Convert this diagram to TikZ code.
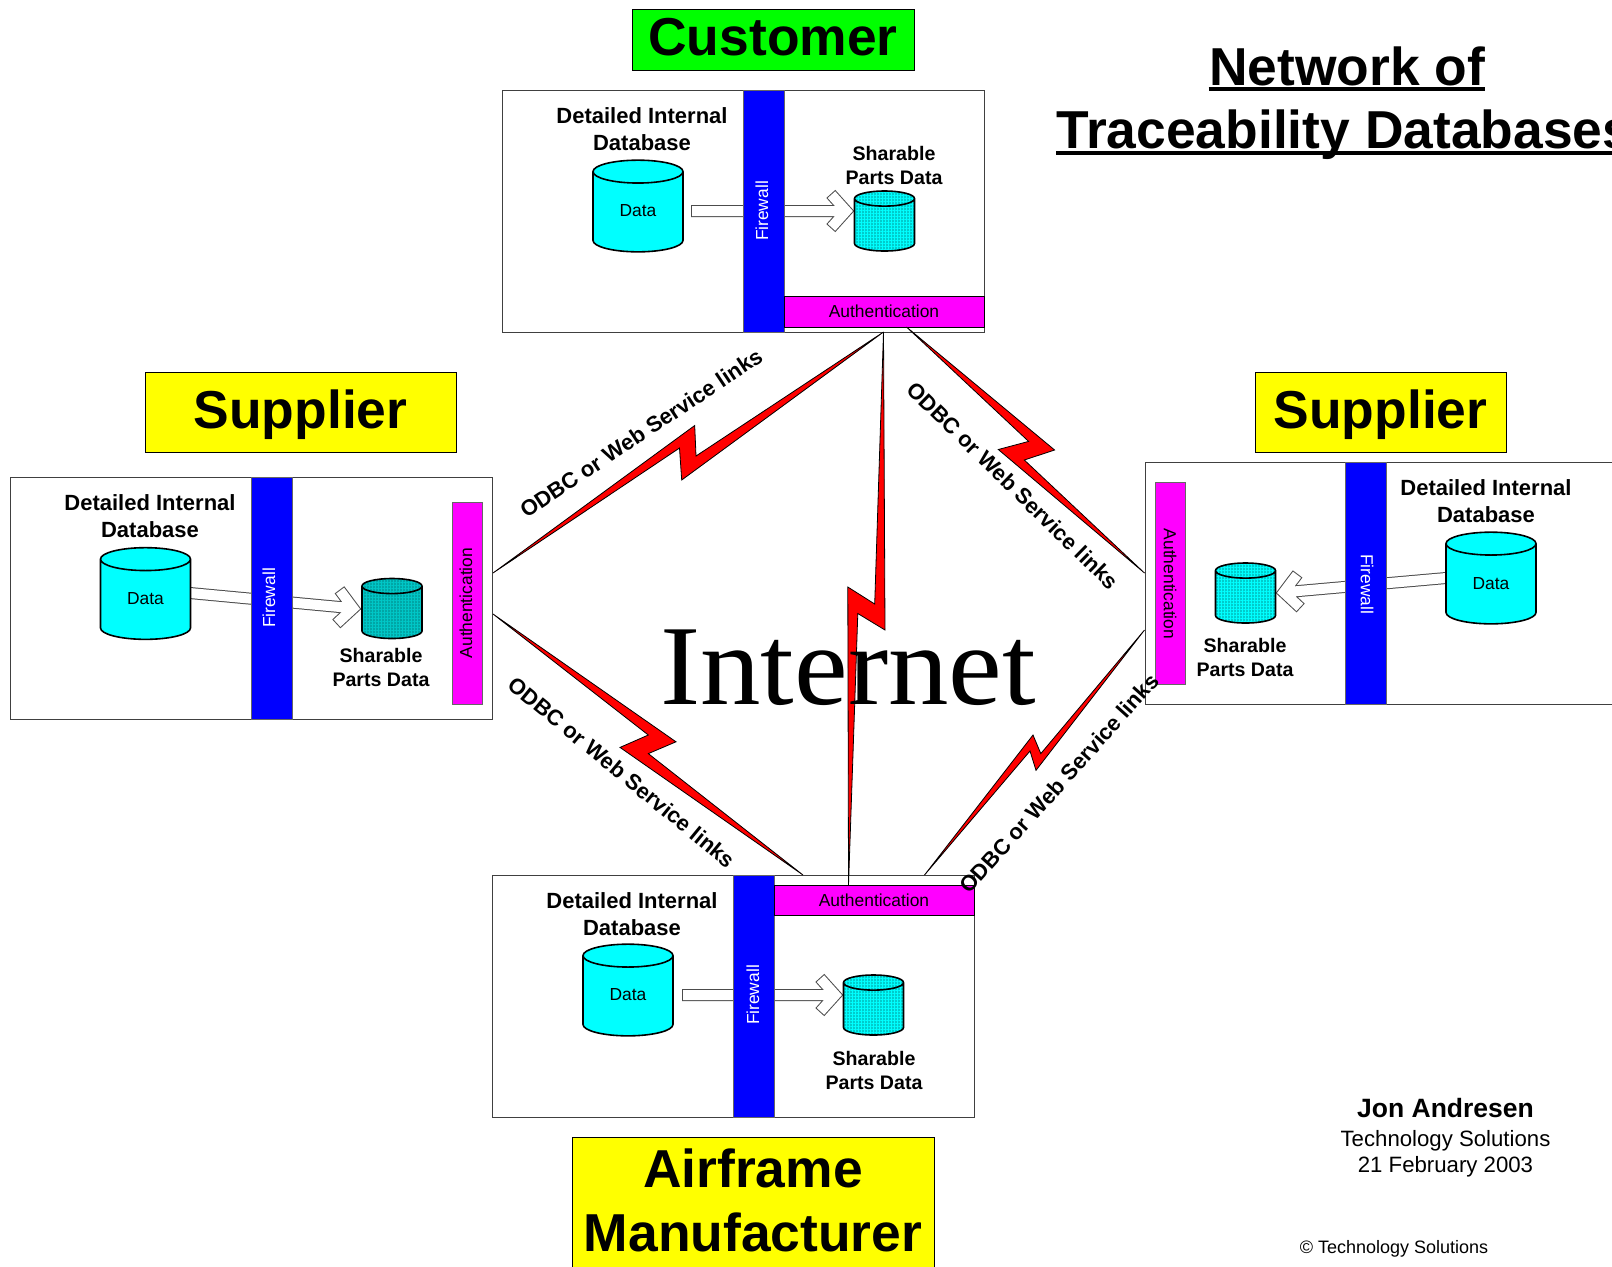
\documentclass[tikz,border=0pt]{standalone}
\usepackage{fontspec}
\setmainfont{Liberation Sans}
\newfontfamily\internetface{Liberation Serif}
\usetikzlibrary{calc,shapes.geometric,patterns.meta}
\definecolor{dbcyan}{RGB}{0,255,255}
\definecolor{authpink}{RGB}{255,0,255}
\definecolor{partyyellow}{RGB}{255,255,0}
\newcommand{\dataarrow}[2]{
	\coordinate (bend) at ($(#2)!3.9pt!(#1)$);
	\draw[flowarrow] (#1) -- ($(#2)!6.5pt!(#1)$) ($(bend)!8.5pt!48:(#1)$) -- (bend) -- ($(bend)!8.5pt!-48:(#1)$);
}
\begin{document}
\begin{tikzpicture}[x=.5pt,y=-.5pt]
	\tikzset{wh/.style 2 args={minimum width=#1*.5pt, minimum height=#2*.5pt}}
	\tikzset{frame/.style={draw=black!75, line width=.4pt, fill=white, inner sep=0pt, outer sep=0pt, anchor=north west}}
	\tikzset{party/.style={frame, draw=black, font=\bfseries\fontsize{26.7}{32}\selectfont, align=center}}
	\tikzset{firewall/.style={frame, draw=black!60, fill=blue}}
	\tikzset{auth/.style={frame, draw=black, fill=authpink}}
	\tikzset{small/.style={inner sep=0pt, font=\fontsize{8.7}{10}\selectfont}}
	\tikzset{firetext/.style={small, text=white}}
	\tikzset{heading/.style={inner sep=0pt, align=center, font=\bfseries\fontsize{11}{13.3}\selectfont}}
	\tikzset{subheading/.style={inner sep=0pt, align=center, font=\bfseries\fontsize{9.8}{12}\selectfont}}
	\tikzset{store/.style={cylinder, shape border rotate=90, aspect=.26, draw=black, line width=.8pt, outer sep=0pt, anchor=shape center}}
	\tikzset{data/.style={store, fill=dbcyan, inner xsep=22pt, inner ysep=17pt, wh={90}{91}}}
	\tikzset{shared/.style 2 args={store, inner xsep=14.5pt, inner ysep=11pt, wh={60}{60}, pattern color=#2, preaction={fill=#1}, preaction={pattern={Lines[angle=0,distance=1.5pt,line width=.4pt]}}, pattern={Lines[angle=90,distance=1.5pt,line width=.4pt]}}}
	\tikzset{flowarrow/.style={draw=black!70, line width=.5pt, double=white, double distance=5pt, line cap=rect}}
	\tikzset{bolt/.style={draw=black, line width=.4pt, fill=red}}
	\tikzset{linktext/.style={inner sep=0pt, font=\bfseries\fontsize{11}{13}\selectfont}}
	\tikzset{rule/.style={line width=2pt}}

	\useasboundingbox (0,0) rectangle (1612,1266);
	\clip (0,0) rectangle (1612,1266);

%% Customer
	\node[party, fill=green, wh={282}{61}, text depth=3pt] (custLabel) at (632,9) {Customer};
	\node[frame, wh={482}{242}] (custFrame) at (502,90) {};
	\coordinate (custFrom) at (697,211);
	\coordinate (custTo) at (854,211);
	\dataarrow{custFrom}{custTo}
	\node[data] (custData) at (638,206) {};
	\node[shared={dbcyan!80!black}{dbcyan}] (custShare) at (884.5,221) {};
	\node[firewall, wh={41}{242}] (custFire) at (743,90) {};
	\node[auth, wh={200}{31}] (custAuth) at (784,296) {};
	\node[small] (custDataText) at (638,211) {Data};
	\node[firetext, rotate=90] (custFireText) at (762,211) {Firewall};
	\node[small] (custAuthText) at (884,311) {Authentication};
	\node[heading] (custHead) at (642,129) {Detailed Internal\\Database};
	\node[subheading] (custSub) at (894,165) {Sharable\\Parts Data};

%% Supplier on the left
	\node[party, fill=partyyellow, wh={311}{80}, text depth=3.1pt] (leftLabel) at (145,372) {Supplier};
	\node[frame, wh={482}{242}] (leftFrame) at (10,477) {};
	\coordinate (leftFrom) at (190,593);
	\coordinate (leftTo) at (361,609);
	\dataarrow{leftFrom}{leftTo}
	\node[data] (leftData) at (145.5,593.5) {};
	\node[shared={dbcyan!65!black}{dbcyan!78!black}] (leftShare) at (392,608.5) {};
	\node[firewall, wh={41}{242}] (leftFire) at (251,477) {};
	\node[auth, draw=black!60, wh={30}{202}] (leftAuth) at (452,502) {};
	\node[small] (leftDataText) at (145.5,599) {Data};
	\node[firetext, rotate=90] (leftFireText) at (269,598) {Firewall};
	\node[small, rotate=90] (leftAuthText) at (466,603) {Authentication};
	\node[heading] (leftHead) at (150,516) {Detailed Internal\\Database};
	\node[subheading] (leftSub) at (381,667) {Sharable\\Parts Data};

%% Supplier on the right
	\node[party, fill=partyyellow, wh={251}{80}, text depth=3.1pt] (rightLabel) at (1255,372) {Supplier};
	\node[frame, wh={500}{242}] (rightFrame) at (1145,462) {};
	\coordinate (rightFrom) at (1446,578);
	\coordinate (rightTo) at (1276,593);
	\dataarrow{rightFrom}{rightTo}
	\node[data] (rightData) at (1491,578) {};
	\node[shared={dbcyan!80!black}{dbcyan}] (rightShare) at (1245.5,593) {};
	\node[firewall, wh={41}{242}] (rightFire) at (1345,462) {};
	\node[auth, draw=black!60, wh={30}{202}] (rightAuth) at (1155,482) {};
	\node[small] (rightDataText) at (1491,584) {Data};
	\node[firetext, rotate=-90] (rightFireText) at (1367,584) {Firewall};
	\node[small, rotate=-90] (rightAuthText) at (1170,584) {Authentication};
	\node[heading] (rightHead) at (1486,501) {Detailed Internal\\Database};
	\node[subheading] (rightSub) at (1245,657) {Sharable\\Parts Data};

%% Airframe manufacturer
	\node[party, fill=partyyellow, wh={362}{140}, text depth=7.2pt] (airLabel) at (572,1137) {Airframe\\Manufacturer};
	\node[frame, wh={482}{242}] (airFrame) at (492,875) {};
	\coordinate (airFrom) at (688,995);
	\coordinate (airTo) at (843,995);
	\dataarrow{airFrom}{airTo}
	\node[data] (airData) at (628,990) {};
	\node[shared={dbcyan!80!black}{dbcyan}] (airShare) at (873.5,1005) {};
	\node[firewall, wh={41}{242}] (airFire) at (733,875) {};
	\node[auth, wh={200}{30}] (airAuth) at (774,885) {};
	\node[small] (airDataText) at (628,995) {Data};
	\node[firetext, rotate=90] (airFireText) at (753,995) {Firewall};
	\node[small] (airAuthText) at (874,900) {Authentication};
	\node[heading] (airHead) at (632,914) {Detailed Internal\\Database};
	\node[subheading] (airSub) at (874,1070) {Sharable\\Parts Data};

%Links
	\coordinate (custTipA) at (883.5,332);
	\coordinate (custTipB) at (906.5,327);
	\coordinate (leftTipA) at (493,573);
	\coordinate (leftTipB) at (493,614);
	\coordinate (rightTipA) at (1144.5,573);
	\coordinate (rightTipB) at (1144.5,630);
	\coordinate (airTipA) at (803,875);
	\coordinate (airTipB) at (848.5,885);
	\coordinate (airTipC) at (924.5,875);
	\draw[bolt] (leftTipA) -- (694.7,425.5) -- (696,456) -- (custTipA) -- (681.7,480) -- (679.5,448) -- cycle;
	\draw[bolt] (custTipA) -- (885,630) -- (857.8,613.5) -- (airTipB) -- (847.8,587) -- (874.7,604) -- cycle;
	\draw[bolt] (custTipB) -- (1054.6,450) -- (1024.3,460) -- (rightTipA) -- (998.3,449.5) -- (1028.6,441.4) -- cycle;
	\draw[bolt] (leftTipB) -- (648.3,735) -- (620,747.4) -- (airTipA) -- (648.3,753.6) -- (676,741.8) -- cycle;
	\draw[bolt] (rightTipB) -- (1036,770.3) -- (1030,751) -- (airTipC) -- (1033,735) -- (1040.8,753.6) -- cycle;

	\node[inner sep=0pt, xscale=1.06, font=\internetface\fontsize{57}{60}\selectfont] (internet) at (848,668) {Internet};
	\node[linktext, rotate=33.7] (linkA) at (641,433) {ODBC or Web Service links};
	\node[linktext, rotate=-44.4] (linkB) at (1013,485.5) {ODBC or Web Service links};
	\node[linktext, rotate=-39.4] (linkC) at (622,772.4) {ODBC or Web Service links};
	\node[linktext, rotate=48.1] (linkD) at (1059,783.4) {ODBC or Web Service links};

%Title
	\node[inner sep=0pt, font=\bfseries\fontsize{26.7}{32}\selectfont] (titleTop) at (1347,66) {Network of};
	\node[inner sep=0pt, anchor=west, font=\bfseries\fontsize{26.7}{32}\selectfont] (titleBottom) at (1056,135) {Traceability Databases};
	\draw[rule] ([yshift=-2pt]titleTop.base west) -- ([yshift=-2pt]titleTop.base east);
	\draw[rule] ([yshift=-2pt]titleBottom.base west) -- ([yshift=-2pt]titleBottom.base east);

%Author
	\node[inner sep=0pt, font=\bfseries\fontsize{13.25}{16}\selectfont] (author) at (1445.5,1108) {Jon Andresen};
	\node[inner sep=0pt, font=\fontsize{11.1}{13}\selectfont] (company) at (1445.5,1141) {Technology Solutions};
	\node[inner sep=0pt, font=\fontsize{11.1}{13}\selectfont] (date) at (1445.5,1167) {21 February 2003};
	\node[inner sep=0pt, font=\fontsize{9}{11}\selectfont] (copyright) at (1394,1249) {© Technology Solutions};
\end{tikzpicture}
\end{document}
